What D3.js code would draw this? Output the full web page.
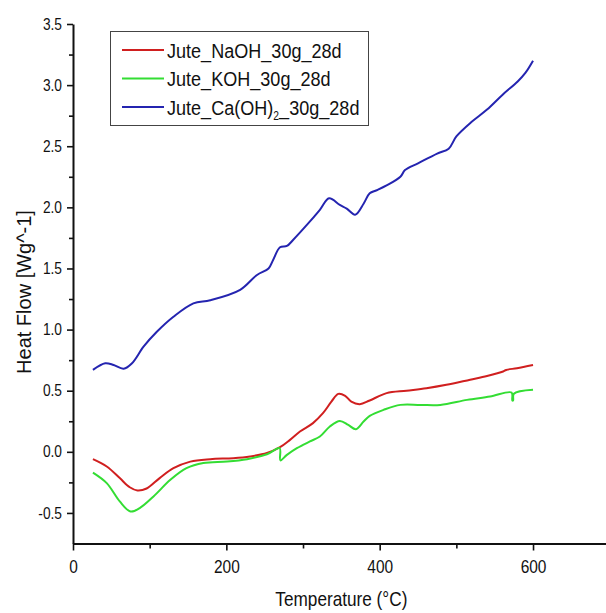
<!DOCTYPE html>
<html>
<head>
<meta charset="utf-8">
<script src="https://cdn.jsdelivr.net/npm/d3@7"></script>
<style>
  body { margin: 0; background: #fff; }
  text { font-family: "Liberation Sans", Arial, sans-serif; fill: #111; }
</style>
</head>
<body>
<div id="chart"></div>
<script>
// ==============================
// Data (temperature in °C, heat flow in W/g)
// ==============================
var naohT = [26, 44, 61, 74, 84, 96, 113, 131, 153, 179, 209, 231, 253, 270, 283, 296, 313, 326, 337, 346, 355, 363, 374, 387, 409, 435, 461, 487, 518, 540, 561, 565, 579, 600];
var naohV = [-0.06, -0.12, -0.215, -0.29, -0.316, -0.30, -0.215, -0.134, -0.08, -0.06, -0.052, -0.038, -0.01, 0.038, 0.098, 0.166, 0.235, 0.316, 0.41, 0.474, 0.458, 0.41, 0.39, 0.42, 0.48, 0.50, 0.52, 0.548, 0.59, 0.62, 0.657, 0.67, 0.684, 0.71];

var kohT = [26, 44, 61, 75, 87, 105, 127, 148, 170, 201, 227, 253, 269.5, 270.5, 279, 292, 309, 322, 335, 348, 359, 369, 379, 387, 405, 427, 453, 479, 514, 544, 572, 573, 574, 575, 600];
var kohV = [-0.17, -0.256, -0.406, -0.488, -0.46, -0.365, -0.229, -0.134, -0.092, -0.08, -0.06, -0.02, 0.03, -0.07, -0.025, 0.03, 0.085, 0.125, 0.207, 0.253, 0.22, 0.185, 0.248, 0.294, 0.343, 0.384, 0.384, 0.384, 0.425, 0.452, 0.485, 0.42, 0.42, 0.475, 0.507];

var caT = [26, 42, 53, 66, 77, 92, 109, 131, 157, 179, 218, 240, 255, 261, 270, 279, 287, 305, 322, 334, 348, 357, 368, 379, 387, 396, 409, 427, 433, 450, 475, 490, 500, 520, 540, 560, 580, 590, 600];
var caV = [0.67, 0.725, 0.71, 0.68, 0.725, 0.86, 0.98, 1.105, 1.215, 1.24, 1.325, 1.447, 1.50, 1.57, 1.674, 1.684, 1.733, 1.856, 1.98, 2.074, 2.02, 1.99, 1.94, 2.03, 2.115, 2.14, 2.18, 2.25, 2.305, 2.36, 2.44, 2.48, 2.58, 2.70, 2.80, 2.92, 3.03, 3.10, 3.20];

var seriesNames = ["Jute_NaOH_30g_28d", "Jute_KOH_30g_28d", "Jute_Ca(OH)2_30g_28d"];
var seriesColors = ["#d01f1f", "#33dd33", "#2424b0"];

var xTicks = [0, 200, 400, 600];
var xMinorTicks = [100, 300, 500];
var yTicks = [-0.5, 0.0, 0.5, 1.0, 1.5, 2.0, 2.5, 3.0, 3.5];
var yMinorTicks = [-0.25, 0.25, 0.75, 1.25, 1.75, 2.25, 2.75, 3.25];

// ==============================
// Setup SVG Area
// ==============================
var svgWidth = 606, svgHeight = 613;
var squeeze = 0.86; // the reference text is narrowed horizontally

var svg = d3.select("#chart").append("svg")
  .attr("width", svgWidth)
  .attr("height", svgHeight);

var xScale = d3.scaleLinear().domain([0, 700]).range([73, 609.7]);
var yScale = d3.scaleLinear().domain([-0.75, 3.5]).range([543.5, 24]);

// Axes (plain hyphen for negatives, like the reference)
var xAxis = d3.axisBottom(xScale).tickValues(xTicks).tickSize(7).tickSizeOuter(0).tickFormat(d => String(d));
var yAxis = d3.axisLeft(yScale).tickValues(yTicks).tickSize(6).tickSizeOuter(0).tickFormat(d => d.toFixed(1));

var xG = svg.append("g")
  .attr("transform", `translate(0, ${yScale(-0.75)})`)
  .call(xAxis);
xG.selectAll("text")
  .attr("font-size", 18)
  .attr("y", 17)
  .attr("transform", `scale(${squeeze},1)`);

var yG = svg.append("g")
  .attr("transform", `translate(${xScale(0)}, 0)`)
  .call(yAxis);
yG.selectAll("text")
  .attr("font-size", 16)
  .attr("x", -11 / squeeze)
  .attr("transform", `scale(${squeeze},1)`);

// Minor ticks
svg.append("g").attr("transform", `translate(0, ${yScale(-0.75)})`)
  .call(d3.axisBottom(xScale).tickValues(xMinorTicks).tickSize(5).tickSizeOuter(0).tickFormat(""))
  .select(".domain").remove();
svg.append("g").attr("transform", `translate(${xScale(0)}, 0)`)
  .call(d3.axisLeft(yScale).tickValues(yMinorTicks).tickSize(4).tickSizeOuter(0).tickFormat(""))
  .select(".domain").remove();

svg.selectAll(".domain").attr("stroke", "#111").attr("stroke-width", 2);
svg.selectAll(".tick line").attr("stroke", "#111").attr("stroke-width", 1.6);

// Axis titles
svg.append("text")
  .attr("transform", `translate(${xScale(350)}, 606) scale(${squeeze},1)`)
  .attr("text-anchor", "middle")
  .attr("font-size", 20)
  .text("Temperature (°C)");

svg.append("text")
  .attr("transform", "translate(31, 292) rotate(-90)")
  .attr("text-anchor", "middle")
  .attr("font-size", 20)
  .text("Heat Flow [Wg^-1]");

// ==============================
// Curves
// ==============================
var allSeries = [
  { t: naohT, v: naohV },
  { t: kohT, v: kohV },
  { t: caT, v: caV }
];

var line = d3.line()
  .x(d => xScale(d[0]))
  .y(d => yScale(d[1]))
  .curve(d3.curveCatmullRom.alpha(0.5));

allSeries.forEach(function(s, i) {
  var pts = s.t.map((t, j) => [t, s.v[j]]);
  svg.append("path")
    .datum(pts)
    .attr("d", line)
    .attr("fill", "none")
    .attr("stroke", seriesColors[i])
    .attr("stroke-width", 2);
});

// ==============================
// Legend
// ==============================
var legend = svg.append("g");
legend.append("rect")
  .attr("x", 110.5).attr("y", 31.5)
  .attr("width", 258).attr("height", 94)
  .attr("fill", "#fff")
  .attr("stroke", "#444")
  .attr("stroke-width", 1);

seriesNames.forEach(function(name, i) {
  var cy = 50 + i * 28.5;
  legend.append("line")
    .attr("x1", 122).attr("x2", 164)
    .attr("y1", cy).attr("y2", cy)
    .attr("stroke", seriesColors[i])
    .attr("stroke-width", 2);
  var txt = legend.append("text")
    .attr("transform", `translate(167, ${cy + 7.5}) scale(${squeeze},1)`)
    .attr("font-size", 21);
  if (name.indexOf("(OH)2") >= 0) {
    var parts = name.split("(OH)2");
    txt.append("tspan").text(parts[0] + "(OH)");
    txt.append("tspan").attr("font-size", 12).attr("dy", 5).text("2");
    txt.append("tspan").attr("dy", -5).text(parts[1]);
  } else {
    txt.text(name);
  }
});
</script>
</body>
</html>
